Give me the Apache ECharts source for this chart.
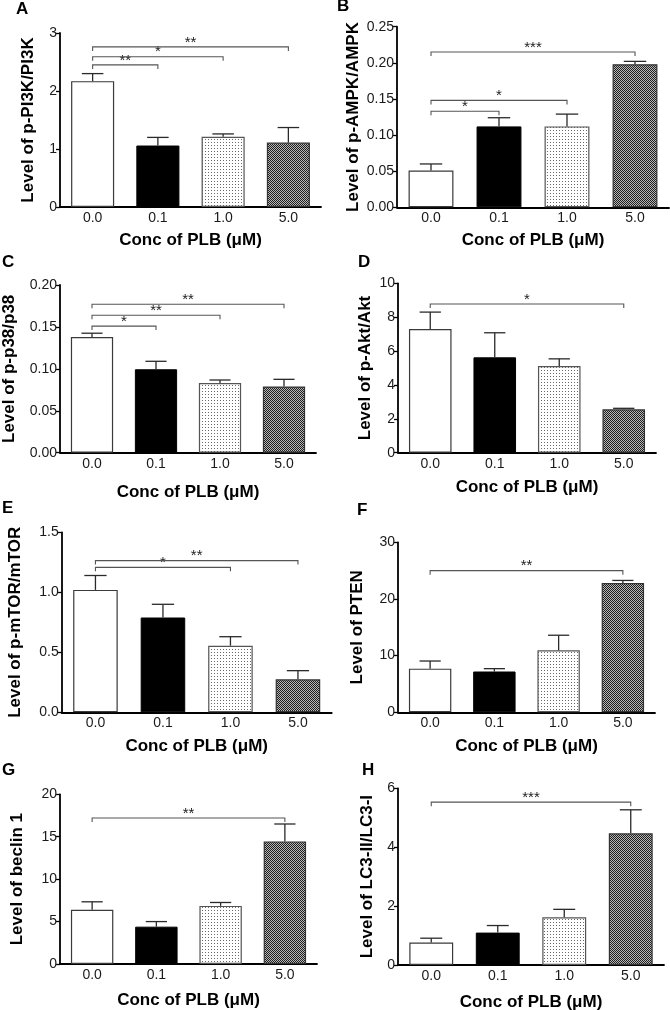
<!DOCTYPE html>
<html>
<head>
<meta charset="utf-8">
<script src="https://cdn.jsdelivr.net/npm/echarts@6/dist/echarts.min.js"></script>
<style>
html,body{margin:0;padding:0;background:#fff;}
#chart{width:670px;height:1010px;}
</style>
</head>
<body>
<div id="chart"></div>
<script>
// ---------- DATA ----------
const categories = ['0.0', '0.1', '1.0', '5.0'];
const panelLetters = ['A', 'B', 'C', 'D', 'E', 'F', 'G', 'H'];
const yNames = ['Level of p-PI3K/PI3K', 'Level of p-AMPK/AMPK', 'Level of p-p38/p38', 'Level of p-Akt/Akt',
                'Level of p-mTOR/mTOR', 'Level of PTEN', 'Level of beclin 1', 'Level of LC3-II/LC3-I'];
const xName = 'Conc of PLB (\u03bcM)';

// y axis tick settings (max, step, decimals)
const yMax = [3, 0.25, 0.20, 10, 1.5, 30, 20, 6];
const yStep = [1, 0.05, 0.05, 2, 0.5, 10, 5, 2];
const yDecimals = [0, 2, 2, 0, 1, 0, 0, 0];

// means and SEM (upper error bar) per panel
const meanA = [2.17, 1.06, 1.21, 1.11];     const semA = [0.13, 0.14, 0.05, 0.26];
const meanB = [0.051, 0.112, 0.112, 0.198]; const semB = [0.009, 0.012, 0.017, 0.004];
const meanC = [0.138, 0.0995, 0.083, 0.079]; const semC = [0.0045, 0.0095, 0.0037, 0.0085];
const meanD = [7.3, 5.63, 5.12, 2.56];      const semD = [1.0, 1.45, 0.42, 0.06];
const meanE = [1.02, 0.79, 0.555, 0.275];   const semE = [0.12, 0.11, 0.075, 0.072];
const meanF = [7.7, 7.2, 10.95, 22.8];      const semF = [1.35, 0.5, 2.65, 0.47];
const meanG = [6.4, 4.4, 6.85, 14.45];      const semG = [0.93, 0.6, 0.4, 2.05];
const meanH = [0.76, 1.1, 1.62, 4.47];      const semH = [0.15, 0.24, 0.27, 0.8];

// significance brackets: [fromIndex, toIndex, yValue, label]
const sigA = [[0, 1, 2.45, '**'], [0, 2, 2.59, '*'], [0, 3, 2.76, '**']];
const sigB = [[0, 1, 0.133, '*'], [0, 2, 0.148, '*'], [0, 3, 0.215, '***']];
const sigC = [[0, 1, 0.151, '*'], [0, 2, 0.164, '**'], [0, 3, 0.177, '**']];
const sigD = [[0, 3, 8.78, '*']];
const sigE = [[0, 2, 1.208, '*'], [0, 3, 1.264, '**']];
const sigF = [[0, 3, 25, '**']];
const sigG = [[0, 3, 17.2, '**']];
const sigH = [[0, 3, 5.53, '***']];

const means = [meanA, meanB, meanC, meanD, meanE, meanF, meanG, meanH];
const sems = [semA, semB, semC, semD, semE, semF, semG, semH];
const sigs = [sigA, sigB, sigC, sigD, sigE, sigF, sigG, sigH];

// ---------- LAYOUT ----------
// [left, top, width, height]
const gridBox = [
  [60, 33, 261, 174],
  [397, 26.7, 272, 180.6],
  [60, 285, 256, 167.7],
  [398, 283.3, 258, 169.4],
  [61.7, 532.3, 270, 180],
  [398, 542.3, 257, 170],
  [60, 794.3, 257, 169.7],
  [398, 788.3, 266, 176.7]
];
const yNameGap = [23, 35, 42, 24, 38, 32, 34, 22];
const xNameGap = [25, 25, 31, 26, 26, 26, 28, 29];
const letterPos = [[16, 1], [337, -2], [2, 254], [358, 254], [2, 500], [357, 502], [2, 762], [362, 762]];

// ---------- PATTERNS ----------
function makePattern(w, h, bg, fg, pts) {
  const c = document.createElement('canvas');
  c.width = w; c.height = h;
  const ctx = c.getContext('2d');
  ctx.fillStyle = bg; ctx.fillRect(0, 0, w, h);
  ctx.fillStyle = fg;
  pts.forEach(p => ctx.fillRect(p[0], p[1], 1, 1));
  return c;
}
const dotCanvas = makePattern(3, 3, '#ffffff', '#6a6a6a', [[1, 1]]);
const checkCanvas = makePattern(2, 2, '#b8b8b8', '#1e1e1e', [[0, 0], [1, 1]]);

const barStyles = [
  { color: '#ffffff', borderColor: '#3a3a3a', borderWidth: 1.2 },
  { color: '#000000', borderColor: '#000000', borderWidth: 1 },
  { color: { image: dotCanvas, repeat: 'repeat' }, borderColor: '#555', borderWidth: 1.2 },
  { color: { image: checkCanvas, repeat: 'repeat' }, borderColor: '#333', borderWidth: 1.2 }
];

const FONT = 'Liberation Sans, Arial, Helvetica, sans-serif';

const grids = [], xAxes = [], yAxes = [], series = [], titles = [];

for (let p = 0; p < 8; p++) {
  const g = gridBox[p];
  grids.push({ left: g[0], top: g[1], width: g[2], height: g[3], containLabel: false, outerBoundsMode: 'none' });
  xAxes.push({
    type: 'category', gridIndex: p, data: categories,
    axisLine: { lineStyle: { color: '#000', width: 1.8 } },
    axisTick: { show: false },
    axisLabel: { color: '#1a1a1a', fontSize: 14, fontFamily: FONT, margin: 4 },
    name: xName, nameLocation: 'middle', nameGap: xNameGap[p], nameMoveOverlap: false,
    nameTextStyle: { color: '#000', fontSize: 17, fontWeight: 'bold', fontFamily: FONT }
  });
  const dec = yDecimals[p];
  yAxes.push({
    type: 'value', gridIndex: p, min: 0, max: yMax[p], interval: yStep[p],
    axisLine: { show: true, lineStyle: { color: '#000', width: 1.8 } },
    axisTick: { show: true, length: 4, lineStyle: { color: '#000', width: 1.3 } },
    splitLine: { show: false },
    axisLabel: { color: '#1a1a1a', fontSize: 14, fontFamily: FONT, margin: 3,
      formatter: v => Number(v).toFixed(dec) },
    name: yNames[p], nameLocation: 'middle', nameGap: yNameGap[p], nameMoveOverlap: false,
    nameTextStyle: { color: '#000', fontSize: 17, fontWeight: 'bold', fontFamily: FONT }
  });
  series.push({
    type: 'bar', xAxisIndex: p, yAxisIndex: p, barWidth: '66%',
    data: means[p].map((v, i) => ({ value: v, itemStyle: barStyles[i] })),
    z: 2
  });
  const eb = means[p].map((v, i) => [i, v, v + sems[p][i]]);
  series.push({
    type: 'custom', xAxisIndex: p, yAxisIndex: p, data: eb, z: 3,
    encode: { x: 0, y: [1, 2] },
    renderItem: function (params, api) {
      const x = api.value(0);
      const a = api.coord([x, api.value(1)]);
      const b = api.coord([x, api.value(2)]);
      const half = api.size([1, 0])[0] * 0.165;
      const st = { stroke: '#2a2a2a', lineWidth: 1.3 };
      return { type: 'group', children: [
        { type: 'line', shape: { x1: a[0], y1: a[1], x2: b[0], y2: b[1] }, style: st },
        { type: 'line', shape: { x1: b[0] - half, y1: b[1], x2: b[0] + half, y2: b[1] }, style: st }
      ] };
    }
  });
  const sg = sigs[p];
  series.push({
    type: 'custom', xAxisIndex: p, yAxisIndex: p, data: sg.map(s => [s[0], s[1], s[2]]), z: 4,
    encode: { x: [0, 1], y: 2 },
    renderItem: function (params, api) {
      const a = api.coord([api.value(0), api.value(2)]);
      const b = api.coord([api.value(1), api.value(2)]);
      const lab = sg[params.dataIndex][3];
      return { type: 'group', children: [
        { type: 'polyline', shape: { points: [[a[0], a[1] + 4], [a[0], a[1]], [b[0], b[1]], [b[0], b[1] + 4]] },
          style: { stroke: '#555', lineWidth: 1.1, fill: null } },
        { type: 'text', x: (a[0] + b[0]) / 2, y: a[1] + 3,
          style: { text: lab, textAlign: 'center', textVerticalAlign: 'bottom', fontSize: 15, fontFamily: FONT, fill: '#222' } }
      ] };
    }
  });
  titles.push({ text: panelLetters[p], left: letterPos[p][0], top: letterPos[p][1], padding: 0,
    textStyle: { fontSize: 17, fontWeight: 'bold', color: '#000', fontFamily: FONT } });
}

const chart = echarts.init(document.getElementById('chart'), null, { renderer: 'canvas' });
chart.setOption({
  animation: false,
  backgroundColor: '#fff',
  title: titles,
  grid: grids,
  xAxis: xAxes,
  yAxis: yAxes,
  series: series
});
</script>
</body>
</html>
